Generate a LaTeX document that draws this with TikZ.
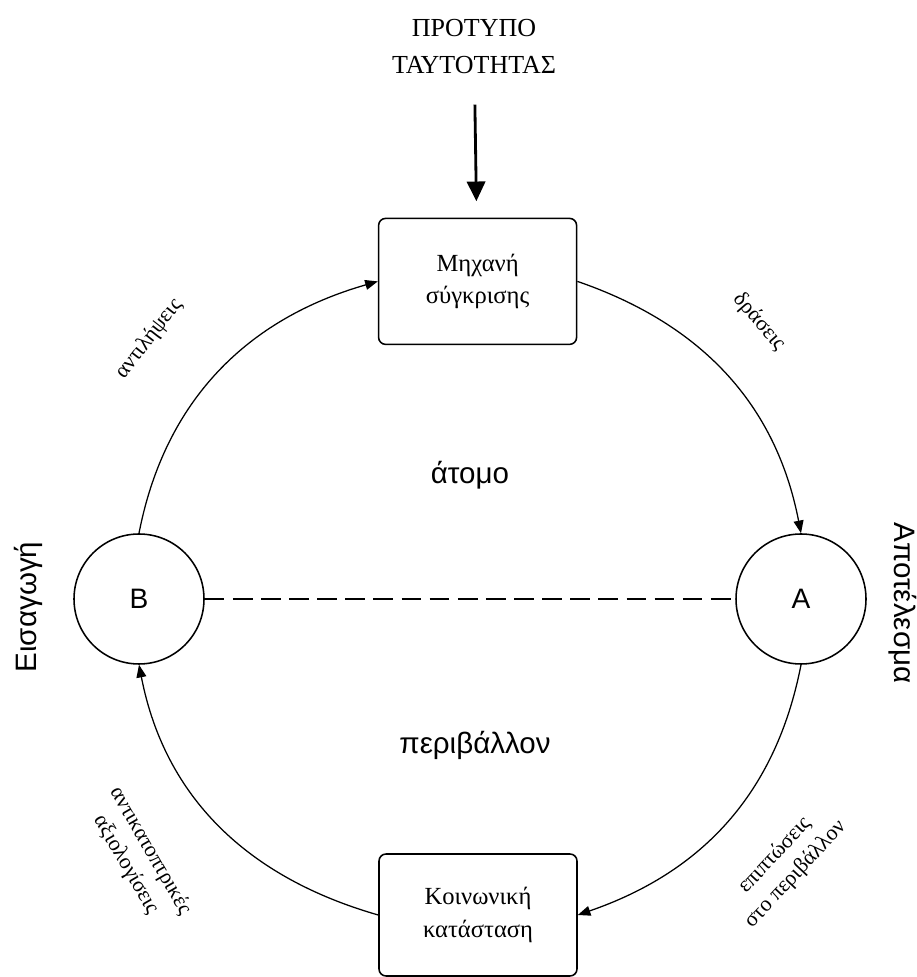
\documentclass[tikz,border=0pt]{standalone}
\usepackage{fontspec}
\setmainfont{Liberation Serif}
\setsansfont{Liberation Sans}
\usetikzlibrary{positioning,arrows.meta}

\begin{document}
\begin{tikzpicture}[
    >={Triangle[length=9pt,width=7pt]},
    procbox/.style={draw, line width=1.1pt, rounded corners=5pt,
        minimum width=4.95cm, minimum height=3.15cm, align=center,
        font=\fontsize{17.5}{23}\selectfont},
    pole/.style={draw, circle, line width=1.1pt, minimum size=3.25cm,
        font=\sffamily\fontsize{20}{24}\selectfont},
    flow/.style={->, line width=0.9pt},
    edgelbl/.style={align=center, font=\fontsize{15.5}{20}\selectfont},
    bigword/.style={font=\sffamily\fontsize{21}{25}\selectfont},
]

% frame (keeps the page the size of the figure)
\useasboundingbox (0, 0) rectangle (22.925, 24.425);

% ── TOP: identity model feeding the comparator ───────────────

\node[align=center, font=\fontsize{18.5}{26}\selectfont] (model) at (11.85, 23.26) {ΠΡΟΤΥΠΟ\\ΤΑΥΤΟΤΗΤΑΣ};

\node[procbox] (mach) at (11.94, 17.39) {Μηχανή\\σύγκρισης};

\draw[->, line width=2pt, >={Triangle[length=14pt,width=13pt]},
      shorten <=0.65cm, shorten >=0.41cm] (model) -- (mach);

% ── MIDDLE: input / output poles ─────────────────────────────

\node[pole] (B) at (3.475, 9.45) {B};
\node[pole] (A) at (20.025, 9.45) {A};

\draw[line width=1.5pt, dash pattern=on 14pt off 6pt] (B) -- (A);

\node[bigword, rotate=90]  (input)  at (0.7, 9.25)    {Εισαγωγή};
\node[bigword, rotate=-90] (output) at (22.575, 9.35) {Αποτέλεσμα};

\node[bigword] (self) at (11.75, 12.55) {άτομο};
\node[bigword] (env)  at (11.875, 5.8)  {περιβάλλον};

% ── BOTTOM: social situation ─────────────────────────────────

\node[procbox, minimum height=3.05cm] (soc) at (11.95, 1.55) {Κοινωνική\\κατάσταση};

% ── the loop (arcs of one big circle) ────────────────────────

\draw[flow] (B.north)  to[out=79,   in=196] (mach.west);
\draw[flow] (mach.east) to[out=-19,  in=101] (A.north);
\draw[flow] (A.south)  to[out=-101, in=19]  (soc.east);
\draw[flow] (soc.west) to[out=164,  in=-79] (B.south);

% arc labels
\node[edgelbl, rotate=52]  (perc) at (3.725, 15.95)  {αντιλήψεις};
\node[edgelbl, rotate=-49] (act)  at (18.975, 16.375) {δράσεις};
\node[edgelbl, rotate=47]  (eff)  at (19.625, 2.8)   {επιπτώσεις\\στο περιβάλλον};
\node[edgelbl, rotate=-60] (refl) at (3.45, 2.975)   {αντικατοπτρικές\\αξιολογίσεις};

\end{tikzpicture}
\end{document}
